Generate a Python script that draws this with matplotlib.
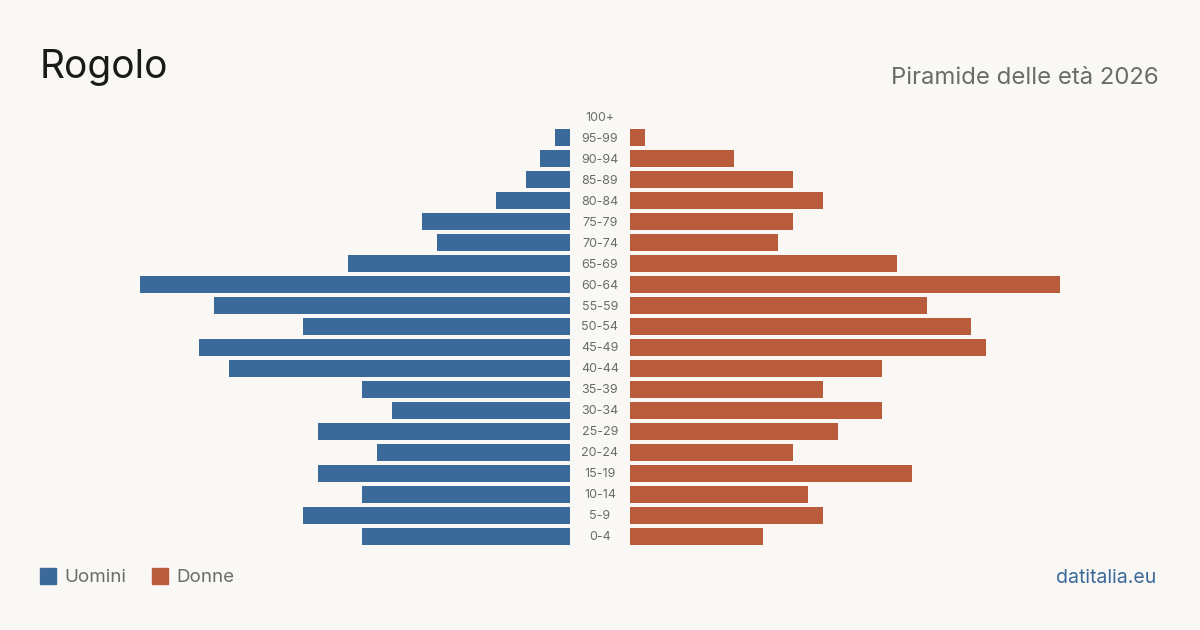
import matplotlib
matplotlib.use("Agg")
import matplotlib.pyplot as plt
from matplotlib.patches import Rectangle

# Age classes, bottom to top
AGES = ["0-4", "5-9", "10-14", "15-19", "20-24", "25-29", "30-34", "35-39",
        "40-44", "45-49", "50-54", "55-59", "60-64", "65-69", "70-74",
        "75-79", "80-84", "85-89", "90-94", "95-99", "100+"]
MEN = [14, 18, 14, 17, 13, 17, 12, 14, 23, 25, 18, 24, 29, 15, 9, 10, 5, 3, 2, 1, 0]
WOMEN = [9, 13, 12, 19, 11, 14, 17, 13, 17, 24, 23, 20, 29, 18, 10, 11, 13, 11, 7, 1, 0]

BG = "#f9f8f4"
BLUE = "#3b6a9a"
ORANGE = "#b95c3c"
GREY = "#6b6b6b"

plt.rcParams["font.family"] = ["Inter", "DejaVu Sans"]

W, H = 1200, 630
fig = plt.figure(figsize=(12, 6.3), dpi=100, facecolor=BG)

XMAX = 29
y0, y1 = 106.5, 546.5  # pixel extent of the rows
bottom = 1 - y1 / H
height = (y1 - y0) / H

ax_l = fig.add_axes([140 / W, bottom, 430 / W, height])
ax_r = fig.add_axes([630 / W, bottom, 430 / W, height])
ypos = list(range(len(AGES)))

ax_l.barh(ypos, MEN, height=0.81, color=BLUE)
ax_l.set_xlim(XMAX, 0)
ax_r.barh(ypos, WOMEN, height=0.81, color=ORANGE)
ax_r.set_xlim(0, XMAX)

for ax in (ax_l, ax_r):
    ax.set_ylim(-0.5, len(AGES) - 0.5)
    ax.axis("off")

for i, lab in enumerate(AGES):
    ax_r.annotate(lab, xy=(0, i), xycoords=("axes fraction", "data"),
                  xytext=(-30, -1), textcoords="offset pixels",
                  ha="center", va="center", fontsize=9, color=GREY)

fig.text(40 / W, 1 - 68 / H, "Rogolo", fontsize=28, color="#1a1a1a",
         ha="left", va="center")
fig.text(1159 / W, 1 - 78 / H, "Piramide delle età 2026", fontsize=17.2,
         color=GREY, ha="right", va="center")

# legend
for x, lab, col in [(40, "Uomini", BLUE), (152, "Donne", ORANGE)]:
    fig.patches.append(Rectangle((x / W, 1 - 584 / H), 16 / W, 16 / H,
                                 transform=fig.transFigure, color=col))
    fig.text((x + 24) / W, 1 - 578 / H, lab, fontsize=13.5, color=GREY,
             ha="left", va="center")

fig.text(1156 / W, 1 - 578 / H, "datitalia.eu", fontsize=14, color=BLUE,
         ha="right", va="center")

fig.savefig("out.png", dpi=100, facecolor=BG)
